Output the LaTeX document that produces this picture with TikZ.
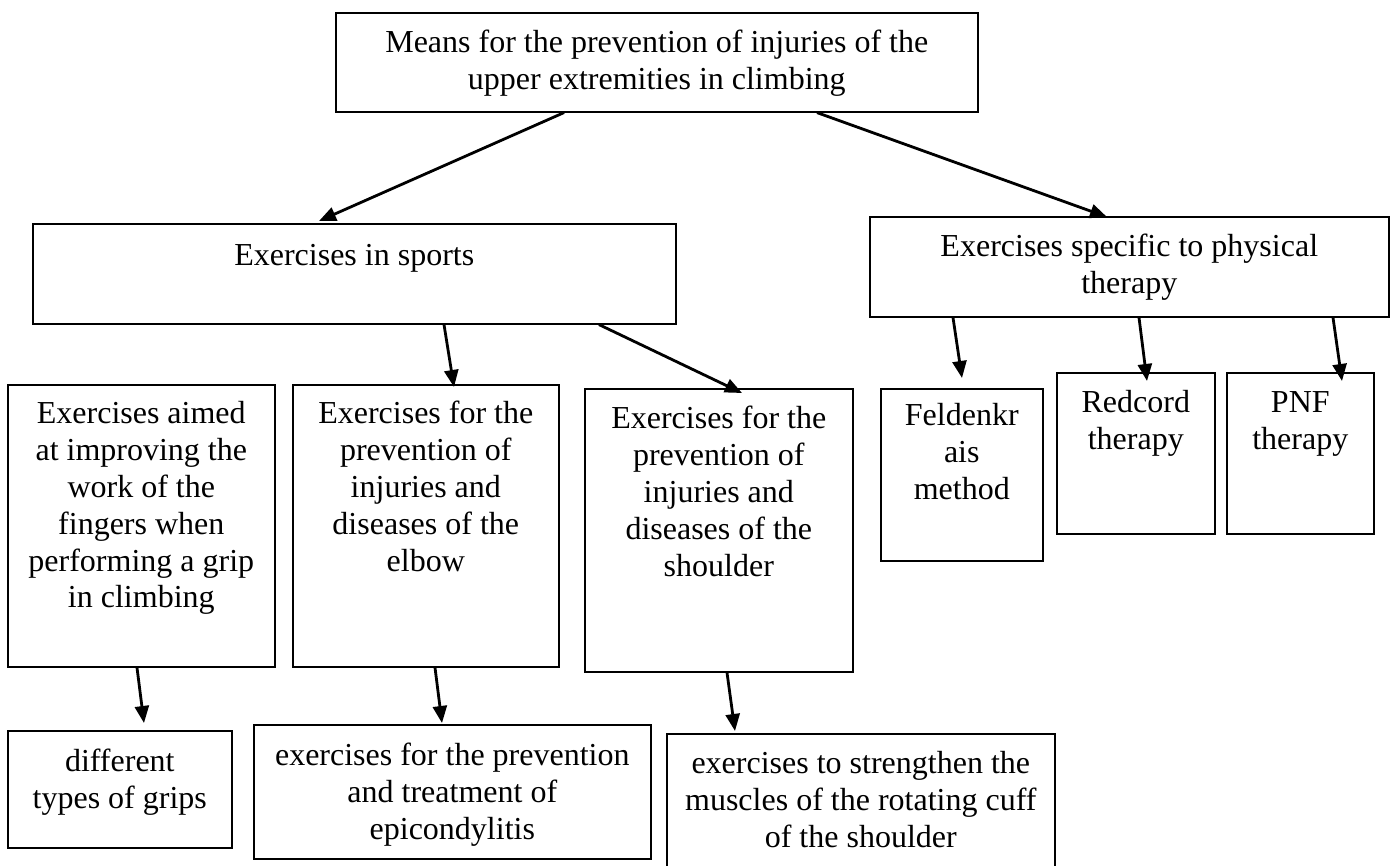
\documentclass[tikz,border=0pt]{standalone}
\usepackage{fontspec}
\setmainfont{Liberation Serif}
\usetikzlibrary{arrows.meta}
\newcommand{\bxt}[4]{\parbox[c][#2pt][t]{#1pt}{\centering\rule{0pt}{#3pt}#4}}
\begin{document}
\begin{tikzpicture}[x=1pt,y=-1pt,
  box/.style={draw, line width=1.6pt, inner sep=0pt, anchor=north west,
    font=\fontsize{32pt}{36.8pt}\selectfont},
  arr/.style={line width=2.8pt, -{Triangle[length=17pt,width=14pt]}}]
\useasboundingbox (0,0) rectangle (1395,866);
\clip (0,0) rectangle (1395,866);
\fill[white] (0,0) rectangle (1395,866);

\node[box] (top) at (335,12) {\bxt{642}{99}{40}{Means for the prevention of injuries of the\\upper extremities in climbing}};
\node[box] (sports) at (32,223) {\bxt{643}{100}{42}{Exercises in sports}};
\node[box] (pt) at (869,216) {\bxt{519}{100}{40}{Exercises specific to physical\\therapy}};
\node[box] (fing) at (7,384) {\bxt{267}{282}{39}{Exercises aimed\\at improving the\\work of the\\fingers when\\performing a grip\\in climbing}};
\node[box] (elbow) at (292,384) {\bxt{266}{282}{39}{Exercises for the\\prevention of\\injuries and\\diseases of the\\elbow}};
\node[box] (shoulder) at (584,388) {\bxt{268}{283}{40}{Exercises for the\\prevention of\\injuries and\\diseases of the\\shoulder}};
\node[box] (feld) at (880,388) {\bxt{162}{172}{37}{Feldenkr\\ais\\method}};
\node[box] (red) at (1056,372) {\bxt{158}{161}{40}{Redcord\\therapy}};
\node[box] (pnf) at (1226,372) {\bxt{147}{161}{40}{PNF\\therapy}};
\node[box] (grips) at (7,730) {\bxt{224}{117}{41}{different\\types of grips}};
\node[box] (epic) at (253,724) {\bxt{397}{134}{41}{exercises for the prevention\\and treatment of\\epicondylitis}};
\node[box] (cuff) at (666,733) {\bxt{388}{140}{40}{exercises to strengthen the\\muscles of the rotating cuff\\of the shoulder}};

\draw[arr] ([xshift=229]top.south west) -- ([xshift=287,yshift=2]sports.north west);
\draw[arr] ([xshift=482]top.south west) -- ([xshift=238,yshift=-1]pt.north west);
\draw[arr] ([xshift=412]sports.south west) -- ([xshift=162,yshift=-3]elbow.north west);
\draw[arr] ([xshift=567]sports.south west) -- ([xshift=158,yshift=-5]shoulder.north west);
\draw[arr] ([xshift=84]pt.south west) -- ([xshift=82,yshift=10]feld.north west);
\draw[arr] ([xshift=270]pt.south west) -- ([xshift=91,yshift=-9]red.north west);
\draw[arr] ([xshift=464]pt.south west) -- ([xshift=116,yshift=-9]pnf.north west);
\draw[arr] ([xshift=130]fing.south west) -- ([xshift=137,yshift=7]grips.north west);
\draw[arr] ([xshift=143]elbow.south west) -- ([xshift=189,yshift=1]epic.north west);
\draw[arr] ([xshift=143]shoulder.south west) -- ([xshift=69,yshift=2]cuff.north west);
\end{tikzpicture}
\end{document}
